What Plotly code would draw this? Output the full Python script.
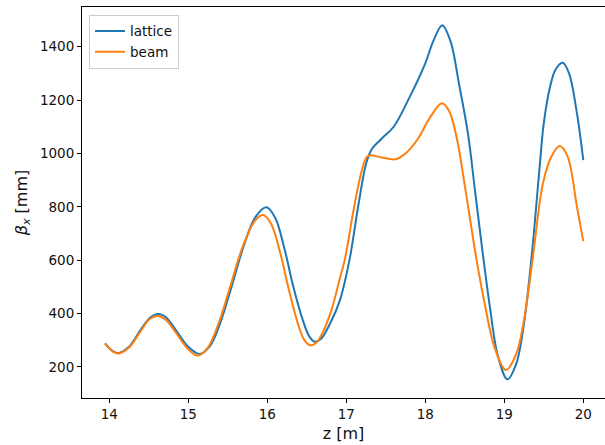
import plotly.graph_objects as go

# lattice beta_x [mm] vs z [m]
z_lattice = [13.946, 14.05, 14.12, 14.25, 14.40, 14.52, 14.62, 14.72, 14.85, 15.00,
             15.15, 15.28, 15.40, 15.53, 15.70, 15.85, 15.99, 16.10, 16.22, 16.33,
             16.45, 16.53, 16.60, 16.68, 16.80, 16.92, 17.04, 17.15, 17.25, 17.32,
             17.45, 17.60, 17.80, 18.00, 18.10, 18.215, 18.32, 18.43, 18.54, 18.63,
             18.73, 18.82, 18.92, 19.04, 19.15, 19.25, 19.35, 19.45, 19.50, 19.58,
             19.65, 19.74, 19.82, 19.92, 20.00]
beta_lattice = [288, 258, 252, 275, 340, 385, 398, 385, 335, 275,
                248, 280, 360, 482, 651, 761, 798, 759, 640, 500,
                375, 315, 294, 305, 365, 450, 600, 800, 960, 1015,
                1056, 1100, 1210, 1338, 1420, 1481, 1420, 1256, 1075, 860,
                620, 420, 240, 153, 210, 363, 625, 957, 1113, 1250,
                1315, 1340, 1300, 1150, 975]

# beam beta_x [mm] vs z [m]
z_beam = [13.946, 14.05, 14.12, 14.25, 14.40, 14.51, 14.61, 14.72, 14.85, 15.00,
          15.12, 15.25, 15.40, 15.51, 15.70, 15.85, 15.95, 16.05, 16.17, 16.27,
          16.40, 16.47, 16.54, 16.62, 16.72, 16.82, 16.92, 16.98, 17.10, 17.20,
          17.26, 17.30, 17.45, 17.62, 17.75, 17.91, 18.05, 18.21, 18.30, 18.40,
          18.50, 18.65, 18.75, 18.88, 19.02, 19.15, 19.25, 19.36, 19.49, 19.60,
          19.70, 19.80, 19.92, 20.00]
beta_beam = [288, 256, 250, 272, 335, 378, 390, 375, 325, 265,
             242, 273, 376, 480, 659, 750, 769, 735, 620, 493,
             350, 300, 281, 290, 340, 420, 533, 600, 800, 940,
             987, 993, 985, 978, 1000, 1056, 1130, 1188, 1160, 1056,
             880, 600, 440, 270, 188, 247, 376, 606, 888, 990,
             1028, 990, 800, 671]

x_ticks = [14, 15, 16, 17, 18, 19, 20]
y_ticks = [200, 400, 600, 800, 1000, 1200, 1400]

fig = go.Figure()
fig.add_trace(go.Scatter(x=z_lattice, y=beta_lattice, mode="lines", name="lattice",
                         line=dict(color="#1f77b4", width=2, shape="spline", smoothing=1.0)))
fig.add_trace(go.Scatter(x=z_beam, y=beta_beam, mode="lines", name="beam",
                         line=dict(color="#ff7f0e", width=2, shape="spline", smoothing=1.0)))

axis_common = dict(showline=True, linecolor="black", linewidth=1, mirror=True,
                   ticks="outside", ticklen=4, tickwidth=1, tickcolor="black",
                   showgrid=False, zeroline=False,
                   tickfont=dict(family="DejaVu Sans", size=13.5, color="#111"))

fig.update_layout(
    width=605, height=445,
    margin=dict(l=82, r=0, t=7, b=47),
    paper_bgcolor="white", plot_bgcolor="white",
    font=dict(family="DejaVu Sans", size=13.5, color="#111"),
    xaxis=dict(range=[13.655, 20.275], tickvals=x_ticks, ticktext=[str(v) for v in x_ticks],
               title=dict(text="z [m]", standoff=6), **axis_common),
    yaxis=dict(range=[83, 1549], tickvals=y_ticks, ticktext=[str(v) for v in y_ticks],
               title=dict(text="<i>β</i><sub><i>x</i></sub> [mm]", standoff=8), **axis_common),
    legend=dict(x=0.0134, y=0.98, xanchor="left", yanchor="top",
                bgcolor="rgba(255,255,255,0.8)", bordercolor="#cccccc", borderwidth=1,
                font=dict(family="DejaVu Sans", size=13.5, color="#111"),
                itemwidth=30, tracegroupgap=0),
    showlegend=True,
)

fig.write_html("out.html")
